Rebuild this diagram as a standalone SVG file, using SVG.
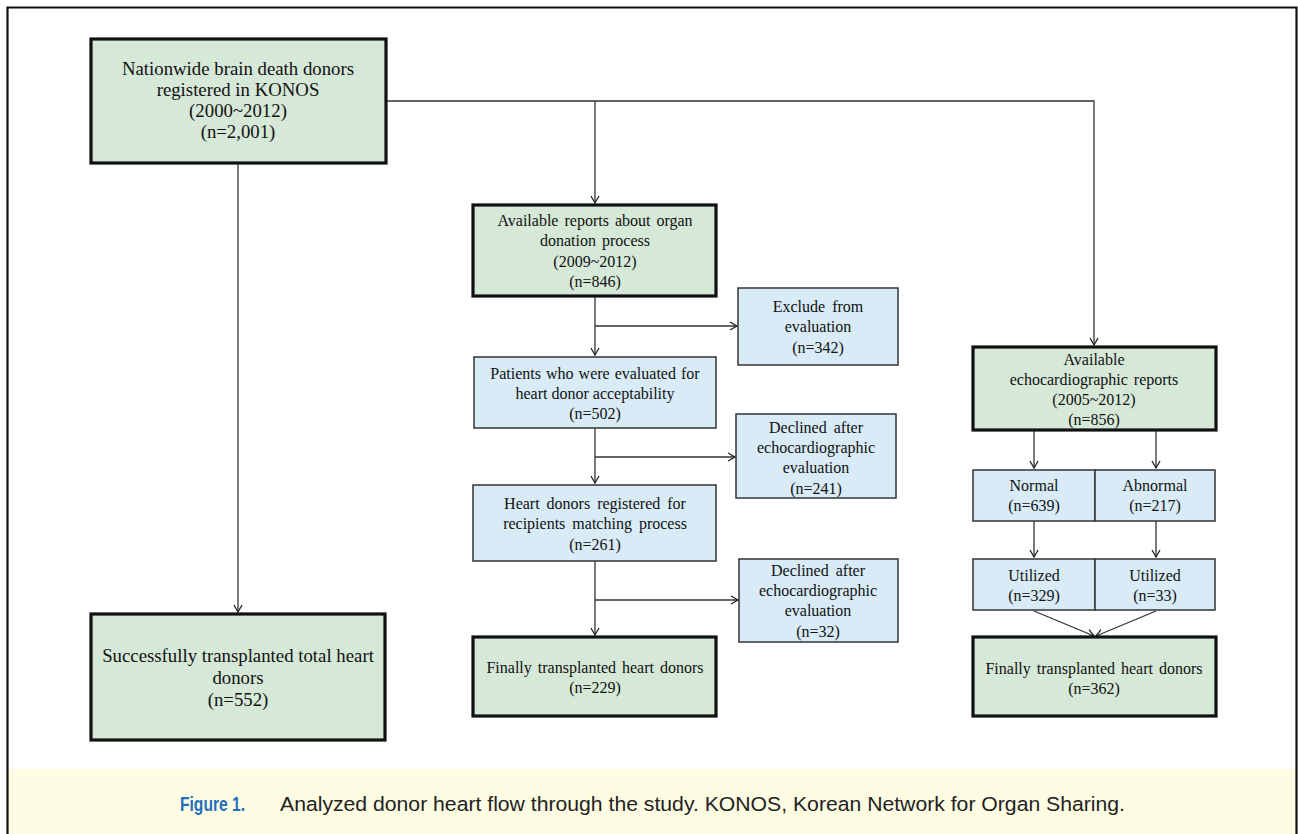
<svg xmlns="http://www.w3.org/2000/svg" width="1298" height="834" viewBox="0 0 1298 834">
<defs>
<marker id="arr" markerWidth="12" markerHeight="12" refX="10" refY="5" orient="auto" markerUnits="userSpaceOnUse" viewBox="0 0 12 10">
<polyline points="3,1 10,5 3,9" fill="none" stroke="#222" stroke-width="1.3"/>
</marker>
<style>
.g{fill:#d6e8d8;stroke:#111;stroke-width:3.2}
.b{fill:#d8ebf7;stroke:#333;stroke-width:1.5}
.t{font-family:"Liberation Serif","Times New Roman",serif;fill:#111;text-anchor:middle}
.s15{font-size:16px}
.s17{font-size:18.8px}
.c{fill:none;stroke:#333;stroke-width:1.3}
</style>
</defs>
<rect x="0" y="0" width="1298" height="834" fill="#fff"/>
<rect x="8" y="769" width="1288" height="65" fill="#fefce2"/>
<path d="M7.5,834 V7.5 H1296.5 V834" fill="none" stroke="#111" stroke-width="2.2"/>

<g id="connectors">
<path class="c" d="M386,101 H1094 V345" marker-end="url(#arr)"/>
<path class="c" d="M595,101 V203" marker-end="url(#arr)"/>
<path class="c" d="M238,163 V612" marker-end="url(#arr)"/>
<path class="c" d="M595,296 V355" marker-end="url(#arr)"/>
<path class="c" d="M595,326 H737" marker-end="url(#arr)"/>
<path class="c" d="M595,428 V483" marker-end="url(#arr)"/>
<path class="c" d="M595,457 H735" marker-end="url(#arr)"/>
<path class="c" d="M595,561 V635" marker-end="url(#arr)"/>
<path class="c" d="M595,600 H738" marker-end="url(#arr)"/>
<path class="c" d="M1034,430 V468" marker-end="url(#arr)"/>
<path class="c" d="M1156,430 V468" marker-end="url(#arr)"/>
<path class="c" d="M1034,521 V557" marker-end="url(#arr)"/>
<path class="c" d="M1156,521 V557" marker-end="url(#arr)"/>
<path class="c" d="M1034,611 L1094,636" marker-end="url(#arr)"/>
<path class="c" d="M1156,611 L1096,636" marker-end="url(#arr)"/>
</g>

<g id="n-nationwide">
<rect class="g" x="91" y="39" width="295" height="124"/>
<text class="t s17" x="238" y="75">Nationwide brain death donors</text>
<text class="t s17" x="238" y="96">registered in KONOS</text>
<text class="t s17" x="238" y="117">(2000~2012)</text>
<text class="t s17" x="238" y="138">(n=2,001)</text>
</g>

<g id="n-successful">
<rect class="g" x="91" y="614" width="294" height="126"/>
<text class="t s17" x="238" y="662">Successfully transplanted total heart</text>
<text class="t s17" x="238" y="684">donors</text>
<text class="t s17" x="238" y="706">(n=552)</text>
</g>

<g id="n-reports">
<rect class="g" x="473" y="205" width="243" height="91"/>
<text class="t s15" x="595" y="226" word-spacing="2">Available reports about organ</text>
<text class="t s15" x="595" y="246" word-spacing="2">donation process</text>
<text class="t s15" x="595" y="267">(2009~2012)</text>
<text class="t s15" x="595" y="287">(n=846)</text>
</g>

<g id="n-exclude">
<rect class="b" x="738" y="288" width="160" height="77"/>
<text class="t s15" x="818" y="312" word-spacing="3">Exclude from</text>
<text class="t s15" x="818" y="332">evaluation</text>
<text class="t s15" x="818" y="353">(n=342)</text>
</g>

<g id="n-patients">
<rect class="b" x="474" y="357" width="242" height="71"/>
<text class="t s15" x="595" y="379" word-spacing="1">Patients who were evaluated for</text>
<text class="t s15" x="595" y="399">heart donor acceptability</text>
<text class="t s15" x="595" y="419">(n=502)</text>
</g>

<g id="n-declined1">
<rect class="b" x="736" y="414" width="160" height="84"/>
<text class="t s15" x="816" y="433" word-spacing="3">Declined after</text>
<text class="t s15" x="816" y="453">echocardiographic</text>
<text class="t s15" x="816" y="473">evaluation</text>
<text class="t s15" x="816" y="494">(n=241)</text>
</g>

<g id="n-heartdonors">
<rect class="b" x="473" y="485" width="243" height="76"/>
<text class="t s15" x="595" y="509" word-spacing="3">Heart donors registered for</text>
<text class="t s15" x="595" y="529" word-spacing="3">recipients matching process</text>
<text class="t s15" x="595" y="550">(n=261)</text>
</g>

<g id="n-declined2">
<rect class="b" x="739" y="559" width="159" height="83"/>
<text class="t s15" x="818" y="576" word-spacing="3">Declined after</text>
<text class="t s15" x="818" y="596">echocardiographic</text>
<text class="t s15" x="818" y="616">evaluation</text>
<text class="t s15" x="818" y="637">(n=32)</text>
</g>

<g id="n-final-mid">
<rect class="g" x="473" y="637" width="243" height="79"/>
<text class="t s15" x="595" y="673" word-spacing="2">Finally transplanted heart donors</text>
<text class="t s15" x="595" y="693">(n=229)</text>
</g>

<g id="n-echo">
<rect class="g" x="973" y="347" width="243" height="83"/>
<text class="t s15" x="1094" y="365">Available</text>
<text class="t s15" x="1094" y="385" word-spacing="2">echocardiographic reports</text>
<text class="t s15" x="1094" y="405">(2005~2012)</text>
<text class="t s15" x="1094" y="425">(n=856)</text>
</g>

<g id="n-normal">
<rect class="b" x="973" y="470" width="122" height="51"/>
<text class="t s15" x="1034" y="491">Normal</text>
<text class="t s15" x="1034" y="511">(n=639)</text>
</g>

<g id="n-abnormal">
<rect class="b" x="1095" y="470" width="120" height="51"/>
<text class="t s15" x="1155" y="491">Abnormal</text>
<text class="t s15" x="1155" y="511">(n=217)</text>
</g>

<g id="n-util-normal">
<rect class="b" x="973" y="559" width="122" height="51"/>
<text class="t s15" x="1034" y="581">Utilized</text>
<text class="t s15" x="1034" y="601">(n=329)</text>
</g>

<g id="n-util-abnormal">
<rect class="b" x="1095" y="559" width="120" height="51"/>
<text class="t s15" x="1155" y="581">Utilized</text>
<text class="t s15" x="1155" y="601">(n=33)</text>
</g>

<g id="n-final-right">
<rect class="g" x="973" y="637" width="243" height="79"/>
<text class="t s15" x="1094" y="674" word-spacing="2">Finally transplanted heart donors</text>
<text class="t s15" x="1094" y="694">(n=362)</text>
</g>

<g id="caption">
<text x="180" y="811" font-family="'Liberation Sans',Arial,sans-serif" font-size="21" font-weight="bold" fill="#1f6fbf" textLength="65" lengthAdjust="spacingAndGlyphs">Figure 1.</text>
<text x="280" y="811" font-family="'Liberation Sans',Arial,sans-serif" font-size="20.5" fill="#222" textLength="845" lengthAdjust="spacingAndGlyphs">Analyzed donor heart flow through the study. KONOS, Korean Network for Organ Sharing.</text>
</g>
</svg>
